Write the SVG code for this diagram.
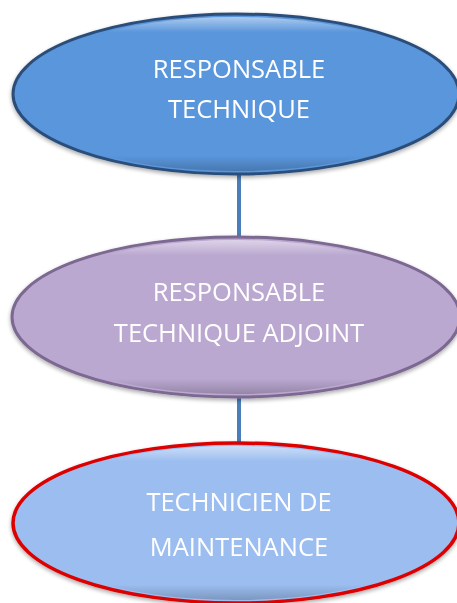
<svg xmlns="http://www.w3.org/2000/svg" width="457" height="603" viewBox="0 0 457 603">
<defs>
<style>
.lbl{font-family:"Open Sans","Liberation Sans",sans-serif;font-size:25.5px;fill:#ffffff;text-anchor:middle}
.conn{stroke:#4a7ebb;stroke-width:4;fill:none}
</style>
<linearGradient id="hl" x1="0" y1="0" x2="0" y2="1">
<stop offset="0" stop-color="#ffffff" stop-opacity="0.5"/>
<stop offset="0.1" stop-color="#ffffff" stop-opacity="0"/>
<stop offset="0.9" stop-color="#000000" stop-opacity="0"/>
<stop offset="1" stop-color="#000000" stop-opacity="0.2"/>
</linearGradient>
<filter id="sh" x="-5%" y="-5%" width="110%" height="115%">
<feGaussianBlur in="SourceAlpha" stdDeviation="2"/>
<feOffset dy="2"/>
<feComponentTransfer><feFuncA type="linear" slope="0.35"/></feComponentTransfer>
<feMerge><feMergeNode/><feMergeNode in="SourceGraphic"/></feMerge>
</filter>
</defs>
<rect width="457" height="603" fill="#ffffff"/>
<g id="connectors">
<line class="conn" x1="239" y1="170" x2="239" y2="240"/>
<line class="conn" x1="239" y1="392" x2="239" y2="446"/>
</g>
<g id="node1" filter="url(#sh)">
<ellipse cx="236" cy="94" rx="223" ry="80" fill="#5a96dc" stroke="#2c4e7a" stroke-width="3"/>
<ellipse cx="236" cy="94" rx="219" ry="77" fill="url(#hl)"/>
<text class="lbl" x="239" y="78">RESPONSABLE</text>
<text class="lbl" x="239" y="118">TECHNIQUE</text>
</g>
<g id="node2" filter="url(#sh)">
<ellipse cx="236" cy="317" rx="224" ry="80" fill="#bba8d1" stroke="#7b6891" stroke-width="3"/>
<ellipse cx="236" cy="317" rx="220" ry="77" fill="url(#hl)"/>
<text class="lbl" x="239" y="301">RESPONSABLE</text>
<text class="lbl" x="239" y="342">TECHNIQUE ADJOINT</text>
</g>
<g id="node3" filter="url(#sh)">
<ellipse cx="236" cy="523" rx="223" ry="80" fill="#9bbdf0" stroke="#dd0000" stroke-width="3.5"/>
<ellipse cx="236" cy="523" rx="219" ry="77" fill="url(#hl)"/>
<text class="lbl" x="239" y="511">TECHNICIEN DE</text>
<text class="lbl" x="239" y="556">MAINTENANCE</text>
</g>
</svg>
